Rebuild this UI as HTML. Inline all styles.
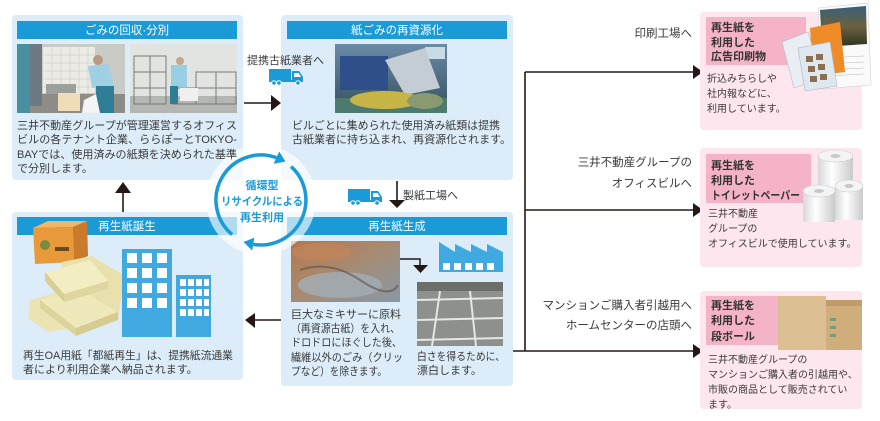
<!DOCTYPE html>
<html><head><meta charset="utf-8">
<style>
html,body{margin:0;padding:0;background:#fff;}
svg{display:block;}
text{font-family:"Liberation Sans","Noto Sans CJK JP",sans-serif;}
</style></head><body>
<svg width="880" height="421" viewBox="0 0 880 421" xmlns="http://www.w3.org/2000/svg">
<defs>
<g id="truck">
<rect x="0" y="0" width="22" height="11" fill="#1a9ad7"/>
<rect x="0" y="11" width="34" height="2" fill="#1a9ad7"/>
<path d="M23 2 H30 L34 8 V13 H23 Z" fill="#1a9ad7"/>
<path d="M25 4 H29.5 L32 8 H25 Z" fill="#fff"/>
<circle cx="5" cy="14" r="2.3" fill="#1a9ad7" stroke="#fff" stroke-width="1"/>
<circle cx="10" cy="14" r="2.3" fill="#1a9ad7" stroke="#fff" stroke-width="1"/>
<circle cx="29" cy="14" r="2.3" fill="#1a9ad7" stroke="#fff" stroke-width="1"/>
</g>
<linearGradient id="gMid" x1="0" y1="0" x2="0" y2="1"><stop offset="0" stop-color="#6b8aa6"/><stop offset="1" stop-color="#34505e"/></linearGradient>
<linearGradient id="gMix" x1="0" y1="0" x2="1" y2="1"><stop offset="0" stop-color="#b5764a"/><stop offset="0.45" stop-color="#a88a70"/><stop offset="1" stop-color="#8898a6"/></linearGradient>
<linearGradient id="gSky" x1="0" y1="0" x2="0" y2="1"><stop offset="0" stop-color="#3a5f7a"/><stop offset="0.5" stop-color="#6a6040"/><stop offset="1" stop-color="#2c3420"/></linearGradient>
<linearGradient id="gRoll" x1="0" y1="0" x2="1" y2="0"><stop offset="0" stop-color="#d6d8da"/><stop offset="0.4" stop-color="#ffffff"/><stop offset="1" stop-color="#c8cacc"/></linearGradient>
</defs>

<!-- Panels -->
<rect x="12" y="15" width="231" height="165" rx="4" fill="#dcedf9"/>
<rect x="281" y="15" width="232" height="165" rx="4" fill="#dcedf9"/>
<rect x="12" y="212" width="231" height="168" rx="4" fill="#dcedf9"/>
<rect x="281" y="212" width="232" height="174" rx="4" fill="#dcedf9"/>

<rect x="17" y="21" width="220" height="18" fill="#1a9ad7"/>
<rect x="287" y="21" width="220" height="18" fill="#1a9ad7"/>
<rect x="17" y="217" width="220" height="18" fill="#1a9ad7"/>
<rect x="287" y="217" width="220" height="18" fill="#1a9ad7"/>

<g fill="#fff" font-size="11.5" text-anchor="middle">
<text x="127" y="34">ごみの回収·分別</text>
<text x="397" y="34">紙ごみの再資源化</text>
<text x="127" y="230">再生紙誕生</text>
<text x="397" y="230">再生紙生成</text>
</g>

<!-- Top-left photos -->
<rect x="17" y="44" width="108" height="69" fill="#c9cbc6"/>
<rect x="43" y="47" width="52" height="46" fill="#ecebe6"/>
<g stroke="#d2d2cc" stroke-width="0.7">
<line x1="43" y1="55" x2="95" y2="55"/><line x1="43" y1="63" x2="95" y2="63"/><line x1="43" y1="71" x2="95" y2="71"/><line x1="43" y1="79" x2="95" y2="79"/><line x1="43" y1="87" x2="95" y2="87"/>
<line x1="52" y1="47" x2="52" y2="93"/><line x1="61" y1="47" x2="61" y2="93"/><line x1="70" y1="47" x2="70" y2="93"/><line x1="79" y1="47" x2="79" y2="93"/><line x1="88" y1="47" x2="88" y2="93"/>
</g>
<rect x="17" y="94" width="108" height="19" fill="#8e8c86"/>
<rect x="17" y="44" width="13" height="69" fill="#4a8fa0"/>
<rect x="30" y="44" width="12" height="62" fill="#6f7885"/>
<rect x="46" y="84" width="30" height="10" fill="#9ca09c"/>
<rect x="58" y="93" width="22" height="18" fill="#f0dcb8"/>
<circle cx="98" cy="60" r="5" fill="#b89a80"/>
<path d="M88 66 L108 64 L114 86 L92 88 Z" fill="#9fd0e4"/>
<rect x="96" y="86" width="18" height="27" fill="#2e7f95"/>
<path d="M84 100 L96 94 L100 113 L82 113Z" fill="#f4f4f4"/>

<rect x="130" y="44" width="107" height="69" fill="#e2e4e2"/>
<rect x="130" y="96" width="107" height="17" fill="#b4b6b2"/>
<g stroke="#7a7a7a" fill="none" stroke-width="1">
<rect x="134" y="56" width="32" height="48"/><line x1="134" y1="72" x2="166" y2="72"/><line x1="134" y1="88" x2="166" y2="88"/><line x1="150" y1="56" x2="150" y2="104"/>
<rect x="196" y="72" width="40" height="32"/><line x1="196" y1="88" x2="236" y2="88"/><line x1="216" y1="72" x2="216" y2="104"/>
<rect x="172" y="88" width="24" height="16"/>
</g>
<circle cx="180" cy="61" r="4" fill="#c0a890"/>
<rect x="171" y="65" width="16" height="22" fill="#98cfe2"/>
<rect x="170" y="86" width="8" height="18" fill="#2e7f95"/>
<rect x="180" y="88" width="18" height="13" fill="#f0f0f0"/>

<!-- Top-middle photo -->
<rect x="335" y="44" width="112" height="69" fill="url(#gMid)"/>
<rect x="425" y="47" width="20" height="12" fill="#c8dce8"/>
<rect x="340" y="56" width="48" height="34" fill="#2f4f8a"/>
<polygon points="385,60 425,48 440,88 405,95" fill="#c4ccd4"/>
<rect x="335" y="98" width="112" height="15" fill="#4c7a6e"/>
<ellipse cx="385" cy="100" rx="35" ry="9" fill="#c8b548"/>
<ellipse cx="425" cy="101" rx="18" ry="8" fill="#8a9a70"/>

<!-- Bottom-left image -->
<polygon points="33,228 48,221 87,221 73,227" fill="#f2b668"/>
<polygon points="33,228 73,227 74,262 35,264" fill="#e8993a"/>
<polygon points="73,227 87,221 88,256 74,262" fill="#c97a2a"/>
<rect x="40" y="240" width="10" height="10" rx="5" fill="#7a8a40"/>
<rect x="55" y="247" width="14" height="4" fill="#6a4a20"/>
<polygon points="62,262 92,256 125,276 118,318 86,322 60,300" fill="#e9e1ad"/>
<polygon points="30,300 58,292 78,304 82,326 48,332 28,318" fill="#ebe3b2"/>
<polygon points="40,300 80,290 118,312 76,328" fill="#efe8bb"/>
<polygon points="76,328 118,312 118,320 76,336" fill="#d6cc92"/>
<polygon points="40,300 76,328 76,336 40,308" fill="#ddd39c"/>
<polygon points="45,272 90,260 108,281 64,294" fill="#f3edc4"/>
<polygon points="45,272 64,294 64,302 45,281" fill="#d9cf95"/>
<polygon points="64,294 108,281 108,289 64,302" fill="#e0d6a0"/>

<!-- Buildings -->
<rect x="122" y="249" width="50" height="88" fill="#3fa9e0"/>
<rect x="176" y="275" width="35" height="62" fill="#3fa9e0"/>
<g fill="#fff">
<rect x="127" y="253" width="10" height="10"/><rect x="142" y="253" width="10" height="10"/><rect x="157" y="253" width="10" height="10"/>
<rect x="127" y="268" width="10" height="10"/><rect x="142" y="268" width="10" height="10"/><rect x="157" y="268" width="10" height="10"/>
<rect x="127" y="283" width="10" height="10"/><rect x="142" y="283" width="10" height="10"/><rect x="157" y="283" width="10" height="10"/>
<rect x="127" y="298" width="10" height="10"/><rect x="142" y="298" width="10" height="10"/><rect x="157" y="298" width="10" height="10"/>
<rect x="180" y="279" width="6" height="7"/><rect x="188" y="279" width="6" height="7"/><rect x="196" y="279" width="6" height="7"/><rect x="204" y="279" width="5" height="7"/>
<rect x="180" y="289" width="6" height="7"/><rect x="188" y="289" width="6" height="7"/><rect x="196" y="289" width="6" height="7"/><rect x="204" y="289" width="5" height="7"/>
<rect x="180" y="299" width="6" height="7"/><rect x="188" y="299" width="6" height="7"/><rect x="196" y="299" width="6" height="7"/><rect x="204" y="299" width="5" height="7"/>
<rect x="180" y="309" width="6" height="7"/><rect x="188" y="309" width="6" height="7"/><rect x="196" y="309" width="6" height="7"/><rect x="204" y="309" width="5" height="7"/>
</g>

<!-- Bottom-middle photos -->
<rect x="291" y="241" width="109" height="61" fill="url(#gMix)"/>
<ellipse cx="322" cy="252" rx="30" ry="9" fill="#c0845a" opacity="0.8"/>
<ellipse cx="340" cy="285" rx="42" ry="13" fill="#a2aeb6" opacity="0.8"/>
<path d="M300 270 Q330 260 360 280 T398 285" stroke="#5a5048" stroke-width="2" fill="none" opacity="0.6"/>
<rect x="417" y="282" width="86" height="64" fill="#8e908c"/>
<rect x="417" y="282" width="86" height="9" fill="#6c6e6a"/>
<g stroke="#e6e6e2" stroke-width="2">
<line x1="417" y1="300" x2="503" y2="298"/><line x1="417" y1="320" x2="503" y2="318"/><line x1="417" y1="340" x2="503" y2="338"/>
<line x1="440" y1="291" x2="432" y2="346"/><line x1="470" y1="291" x2="476" y2="346"/>
</g>

<!-- Factory -->
<path d="M439 272 V242 L455 252 V244 L471 252 V244 L487 252 V244 L503 252 V272 Z" fill="#3fa9e0"/>
<g fill="#fff">
<rect x="443" y="263" width="7" height="7"/><rect x="454" y="263" width="7" height="7"/><rect x="465" y="263" width="7" height="7"/><rect x="476" y="263" width="7" height="7"/><rect x="487" y="263" width="7" height="7"/>
</g>
<!-- small connector in bottom-middle -->
<path d="M400 259 H420 V266" stroke="#231815" stroke-width="1.5" fill="none"/>
<polygon points="413,265 428,265 420.5,273" fill="#231815"/>

<!-- Circle halo (below text) -->
<circle cx="261" cy="200" r="55" fill="#fff" opacity="0.65"/>

<!-- Panel texts -->
<g fill="#3a3a3a" font-size="11">
<text x="17" y="129" textLength="220" lengthAdjust="spacingAndGlyphs">三井不動産グループが管理運営するオフィス</text>
<text x="17" y="143" textLength="220" lengthAdjust="spacingAndGlyphs">ビルの各テナント企業、ららぽーとTOKYO-</text>
<text x="17" y="158" textLength="220" lengthAdjust="spacingAndGlyphs">BAYでは、使用済みの紙類を決められた基準</text>
<text x="17" y="172">で分別します。</text>
<text x="292" y="129" textLength="208" lengthAdjust="spacingAndGlyphs">ビルごとに集められた使用済み紙類は提携</text>
<text x="292" y="143">古紙業者に持ち込まれ、再資源化されます。</text>
<text x="23" y="359" textLength="210" lengthAdjust="spacingAndGlyphs">再生OA用紙「都紙再生」は、提携紙流通業</text>
<text x="23" y="373">者により利用企業へ納品されます。</text>
<text x="291" y="318" textLength="110" lengthAdjust="spacingAndGlyphs">巨大なミキサーに原料</text>
<text x="291" y="332" textLength="109" lengthAdjust="spacingAndGlyphs">（再資源古紙）を入れ、</text>
<text x="291" y="346" textLength="111" lengthAdjust="spacingAndGlyphs">ドロドロにほぐした後、</text>
<text x="291" y="361" textLength="112" lengthAdjust="spacingAndGlyphs">繊維以外のごみ（クリッ</text>
<text x="291" y="375" textLength="96" lengthAdjust="spacingAndGlyphs">プなど）を除きます。</text>
<text x="417" y="360" textLength="88" lengthAdjust="spacingAndGlyphs">白さを得るために、</text>
<text x="417" y="374">漂白します。</text>
<text x="247" y="64">提携古紙業者へ</text>
<text x="403" y="199">製紙工場へ</text>
</g>

<use href="#truck" transform="translate(269,69)"/>
<use href="#truck" transform="translate(348,189)"/>

<!-- Flow arrows -->
<g stroke="#231815" stroke-width="1.6" fill="none">
<line x1="244" y1="103" x2="272" y2="103"/>
<line x1="123" y1="212" x2="123" y2="191"/>
<line x1="397" y1="181" x2="397" y2="201"/>
<line x1="281" y1="320" x2="254" y2="320"/>
<path d="M525 72 V351"/>
<line x1="525" y1="72" x2="694" y2="72"/>
<line x1="525" y1="210" x2="694" y2="210"/>
<line x1="513" y1="351" x2="694" y2="351"/>
</g>
<g fill="#231815">
<polygon points="271,95 281,103 271,111"/>
<polygon points="115,193 123,182 131,193"/>
<polygon points="389,200 405,200 397,208"/>
<polygon points="255,313 245,320 255,328"/>
<polygon points="693,65 703,72 693,79"/>
<polygon points="693,203 703,210 693,217"/>
<polygon points="693,344 703,351 693,358"/>
</g>

<!-- Circle -->
<g stroke="#1a9ad7" stroke-width="3.5" fill="none">
<path d="M232.1 234.5 A45 45 0 0 1 276.4 157.7"/>
<path d="M291.1 166.6 A45 45 0 0 1 253.2 244.3"/>
</g>
<g fill="#1a9ad7">
<polygon points="279.2,151.5 273.6,163.9 285.5,161.5"/>
<polygon points="252.2,250.5 254.3,237.8 243.5,242"/>
</g>
<g fill="#1a9ad7" font-size="11" font-weight="bold" text-anchor="middle">
<text x="262" y="189">循環型</text>
<text x="262" y="205" textLength="82" lengthAdjust="spacingAndGlyphs">リサイクルによる</text>
<text x="262" y="221">再生利用</text>
</g>

<!-- Right labels -->
<g fill="#3a3a3a" font-size="11.5" text-anchor="end">
<text x="692" y="37">印刷工場へ</text>
<text x="692" y="166">三井不動産グループの</text>
<text x="692" y="187">オフィスビルへ</text>
<text x="692" y="309">マンションご購入者引越用へ</text>
<text x="692" y="329">ホームセンターの店頭へ</text>
</g>

<!-- Pink boxes -->
<rect x="700" y="12" width="162" height="118" rx="4" fill="#fde6ed"/>
<rect x="700" y="148" width="162" height="119" rx="4" fill="#fde6ed"/>
<rect x="700" y="291" width="162" height="118" rx="4" fill="#fde6ed"/>
<rect x="706" y="17" width="100" height="48" fill="#f4b3c6"/>
<rect x="706" y="154" width="105" height="49" fill="#f4b3c6"/>
<rect x="706" y="296" width="72" height="49" fill="#f4b3c6"/>

<!-- box1 images -->
<polygon points="818,8 868,3 871,85 822,89" fill="#fafafa" stroke="#d0d0d0" stroke-width="0.6"/>
<polygon points="820,10 866,6 867,44 822,47" fill="url(#gSky)"/>
<g stroke="#b8b8b8" stroke-width="0.5">
<line x1="826" y1="58" x2="864" y2="56"/><line x1="826" y1="64" x2="864" y2="62"/><line x1="826" y1="70" x2="864" y2="68"/><line x1="826" y1="76" x2="864" y2="74"/>
</g>
<polygon points="810,28 840,22 845,72 813,76" fill="#f08c28"/>
<polygon points="782,42 808,32 822,78 794,88" fill="#e8eef4" stroke="#b0c0d0" stroke-width="0.6"/>
<polygon points="798,48 830,42 837,86 805,91" fill="#dfe8ef" stroke="#a8b8c8" stroke-width="0.6"/>
<g fill="#8a7050">
<rect x="806" y="56" width="7" height="6"/><rect x="816" y="54" width="7" height="6"/><rect x="808" y="66" width="7" height="6"/><rect x="818" y="64" width="7" height="6"/><rect x="810" y="76" width="7" height="6"/><rect x="820" y="74" width="7" height="6"/>
</g>

<!-- box2 rolls -->
<rect x="818" y="156" width="35" height="31" fill="url(#gRoll)"/>
<ellipse cx="835.5" cy="156" rx="17.5" ry="6" fill="#f4f4f4" stroke="#ccc" stroke-width="0.6"/>
<ellipse cx="835.5" cy="156" rx="5" ry="2" fill="#c8c8c8"/>
<rect x="803" y="191" width="32" height="31" fill="url(#gRoll)"/>
<ellipse cx="819" cy="191" rx="16" ry="6" fill="#f4f4f4" stroke="#ccc" stroke-width="0.6"/>
<ellipse cx="819" cy="191" rx="5" ry="2" fill="#c8c8c8"/>
<rect x="835" y="186" width="28" height="34" fill="url(#gRoll)"/>
<ellipse cx="849" cy="186" rx="14" ry="6" fill="#f4f4f4" stroke="#ccc" stroke-width="0.6"/>
<ellipse cx="849" cy="186" rx="4.5" ry="2" fill="#c8c8c8"/>

<!-- box3 cardboard -->
<rect x="778" y="296" width="48" height="54" fill="#dcc093"/>
<rect x="826" y="300" width="36" height="50" fill="#cfae7c"/>
<rect x="826" y="300" width="36" height="6" fill="#bf9c6a"/>
<g fill="#7a9a78"><rect x="830" y="318" width="6" height="3"/><rect x="830" y="326" width="6" height="3"/><rect x="830" y="334" width="6" height="3"/></g>

<!-- Pink box texts -->
<g fill="#333" font-size="11" font-weight="bold">
<text x="711" y="31">再生紙を</text>
<text x="711" y="46">利用した</text>
<text x="711" y="60">広告印刷物</text>
<text x="711" y="169">再生紙を</text>
<text x="711" y="184">利用した</text>
<text x="711" y="199" textLength="89" lengthAdjust="spacingAndGlyphs">トイレットペーパー</text>
<text x="711" y="309">再生紙を</text>
<text x="711" y="324">利用した</text>
<text x="711" y="340">段ボール</text>
</g>
<g fill="#3a3a3a" font-size="10">
<text x="707" y="82">折込みちらしや</text>
<text x="707" y="97">社内報などに、</text>
<text x="707" y="112">利用しています。</text>
<text x="708" y="217">三井不動産</text>
<text x="708" y="232">グループの</text>
<text x="708" y="247">オフィスビルで使用しています。</text>
<text x="708" y="363">三井不動産グループの</text>
<text x="708" y="378">マンションご購入者の引越用や、</text>
<text x="708" y="393">市販の商品として販売されてい</text>
<text x="708" y="408">ます。</text>
</g>
</svg>
</body></html>
